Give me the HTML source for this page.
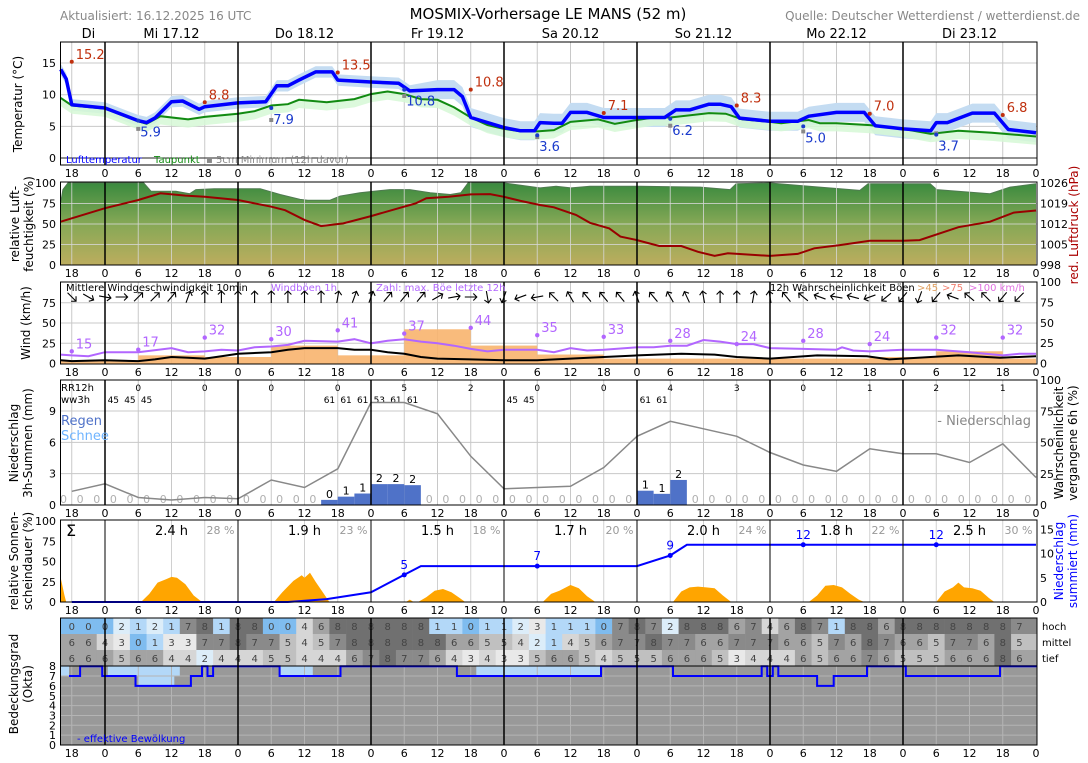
<!DOCTYPE html>
<html><head><meta charset="utf-8"><title>MOSMIX-Vorhersage LE MANS</title>
<style>
body{margin:0;background:#fff;}
svg{display:block;font-family:"DejaVu Sans","Liberation Sans",sans-serif;}
</style></head><body>
<svg id="chart" width="1088" height="763" viewBox="0 0 1088 763" xmlns="http://www.w3.org/2000/svg">
<defs>
<linearGradient id="humGrad" x1="0" y1="0" x2="0" y2="1">
<stop offset="0" stop-color="#3a8a3e"/><stop offset="0.5" stop-color="#86a856"/><stop offset="1" stop-color="#bcad5e"/>
</linearGradient>
</defs>
<rect x="0" y="0" width="1088" height="763" fill="#fff"/>
<text x="60" y="20" font-size="12" fill="#888">Aktualisiert: 16.12.2025 16 UTC</text>
<text x="548" y="19" font-size="15" fill="#000" text-anchor="middle">MOSMIX-Vorhersage LE MANS (52 m)</text>
<text x="1080" y="20" font-size="12" fill="#888" text-anchor="end">Quelle: Deutscher Wetterdienst / wetterdienst.de</text>

<text transform="translate(22,104) rotate(-90)" font-size="12" text-anchor="middle">Temperatur (°C)</text>
<text transform="translate(19,224) rotate(-90)" font-size="12" text-anchor="middle">relative Luft-</text>
<text transform="translate(33,224) rotate(-90)" font-size="12" text-anchor="middle">feuchtigkeit (%)</text>
<text transform="translate(30,323) rotate(-90)" font-size="12" text-anchor="middle">Wind (km/h)</text>
<text transform="translate(18,443) rotate(-90)" font-size="12" text-anchor="middle">Niederschlag</text>
<text transform="translate(32,443) rotate(-90)" font-size="12" text-anchor="middle">3h-Summen (mm)</text>
<text transform="translate(18,561) rotate(-90)" font-size="12" text-anchor="middle">relative Sonnen-</text>
<text transform="translate(32,561) rotate(-90)" font-size="12" text-anchor="middle">scheindauer (%)</text>
<text transform="translate(18,684) rotate(-90)" font-size="12" text-anchor="middle">Bedeckungsgrad</text>
<text transform="translate(32,684) rotate(-90)" font-size="12" text-anchor="middle">(Okta)</text>
<text transform="translate(1078,225) rotate(-90)" font-size="12" fill="#aa0000" text-anchor="middle">red. Luftdruck (hPa)</text>
<text transform="translate(1063,443) rotate(-90)" font-size="12" text-anchor="middle">Wahrscheinlichkeit</text>
<text transform="translate(1077,443) rotate(-90)" font-size="12" text-anchor="middle">vergangene 6h (%)</text>
<text transform="translate(1063,561) rotate(-90)" font-size="12" fill="#0000ff" text-anchor="middle">Niederschlag</text>
<text transform="translate(1077,561) rotate(-90)" font-size="12" fill="#0000ff" text-anchor="middle">summiert (mm)</text>
</svg>
<script>
// ---------- data ----------
const dayLabels = ["Di","Mi 17.12","Do 18.12","Fr 19.12","Sa 20.12","So 21.12","Mo 22.12","Di 23.12"];
const dayLabelH = [-3,12,36,60,84,108,132,156];

const tempT = [-8,-7,-6,0,6,7.5,9,12,14,17,18,24,29,31,33,35,38,41,42,48,53,54,55,60,63,64.5,66,72,75,77.5,78.5,81,82.5,84,87,90,96,101,103,105.5,109,111,113,114.5,120,125,127,132,137,139,144,149,150,152,156.5,160.5,163,168];
const tempV = [14,12.5,8.4,7.9,5.9,5.6,6.3,8.9,9.0,7.7,8.1,8.7,8.9,11.4,11.4,12.3,13.6,13.6,12.3,12.0,11.8,11.2,10.6,10.8,10.8,9.7,6.4,4.8,4.3,4.3,5.6,5.5,5.5,7.2,7.2,6.4,6.4,6.4,7.6,7.6,8.5,8.5,8.1,6.3,5.8,5.8,6.6,7.2,7.2,5.1,4.6,4.3,5.6,5.6,7.1,7.1,4.5,4.0];
const dewT = [-8,-6,0,6,7.5,10,15,18,24,27,30,33,35,40,45,48,51,54,57,60,63,66,69,72,75,78,81,84,89,92,96,99,102,109,112,115,120,122,127,129,132,138,144,149,154,160,168];
const dewV = [9.5,8.3,7.8,5.8,5.4,6.6,6.1,6.5,7.0,7.4,8.3,8.5,9.2,8.8,9.3,10.1,10.5,10.1,9.3,9.2,8.0,6.4,5.2,4.6,4.2,4.2,4.4,5.7,6.1,5.4,6.0,6.4,6.4,7.1,7.0,6.1,5.7,5.5,6.0,5.5,5.5,5.2,4.6,3.8,4.3,4.0,3.4];
const maxH = [-6,18,42,66,90,114,138,162];
const maxV = [15.2,8.8,13.5,10.8,7.1,8.3,7.0,6.8];
const minH = [6,30,54,78,102,126,150];
const minV = [5.9,7.9,10.8,3.6,6.2,5.0,3.7];
const soilMinV = [4.6,6.0,9.8,3.3,5.1,4.2,3.9];

const humT = [-8,-7.6,-6.7,7,8.3,12.8,15.3,16.4,19.7,28,31.6,35.2,36.6,40.6,42.4,46,51.4,55,58.7,62.3,64.2,65.5,72,78.5,81.4,84.1,87.5,96.5,107.4,112.8,113.9,120,125.4,136.2,137.7,148.9,150.1,159.7,163.3,168];
const humV = [76,92,100,100,90,90,87,92,93,93,86,80,79,79,84,88,92,92,88,86,88,100,100,94,96,94,96,96,95,92,99,100,97,91,99,99,92,87,95,99];
const presT = [-8,0,6,10,14.5,18,24,30,32.5,36,39,43,48,53,56,58,62,66,69.5,72,75,78.5,81,85,87.5,91,93,96,100,104,107,110,112.4,120,125,128,132.6,138,144,147,154,159.7,164,168];
const presV = [1012.8,1017.4,1020.2,1022.5,1021.7,1021.3,1020.2,1017.9,1016.7,1013.4,1011.3,1012.2,1014.7,1017.4,1019,1020.8,1021.3,1022.1,1022.2,1021.3,1019.9,1018.5,1017.7,1015.1,1012.4,1010.5,1007.7,1006.5,1004.5,1004.5,1002.5,1001.1,1002,1001.1,1001.8,1003.7,1004.8,1006.3,1006.3,1006.5,1010.9,1012.8,1015.9,1016.6];

const windT = [-8,-6,0,6,9,12,15,18,21,24,30,33,36,42,45,48,51,54,57,60,66,72,78,84,90,96,104,110,114,120,128.5,137.5,141.5,144,154,161.5,168];
const windV = [4,3,4,3,5,8,7,6,9,12,14,17,19,19,17,17,14,12,8,6,5,4,4,6,8,10,12,11,8,6,10,9,5,6,10,7,9];
const gustT = [-8,-6,-3,0,6,12,15,18,21,24,27,30,33,36,42,45,48,51,54,57,60,63,66,69,72,78,81,84,87,90,96,99,102,105,108,111,114,117,120,126,132,133,135,138,144,150,156,162,165,168];
const gustV = [11,10,9,14,14,19,14,15,17,16,20,21,23,28,27,30,25,28,30,27,25,22,18,15,17,17,14,19,16,17,20,20,22,22,29,27,24,24,19,18,17,20,16,15,17,17,14,10,12,12];
const gustMaxH = [-6,6,18,30,42,54,66,78,90,102,114,126,138,150,162];
const gustMaxV = [15,17,32,30,41,37,44,35,33,28,24,28,24,32,32];
const gustProbStart = [-8,6,18,30,42,54,66,78,90,102,114,126,138,150,162];
const gustProbV = [4,10,8,22,10,42,22,11,6,6,6,6,8,15,6];
const windDir = [135,120,100,90,45,45,40,20,0,0,0,0,0,0,0,0,10,20,20,40,40,40,60,80,90,170,200,250,260,315,330,320,320,320,340,320,330,335,350,0,0,10,350,320,310,290,280,285,250,230,220,200,220,290,310,315,220,225];

const precipV = [0,0,0,0,0,0,0,0,0,0,0,0,0,0,0,0,0.49,0.8,1.1,2.0,2.0,1.9,0,0,0,0,0,0,0,0,0,0,0,0,0,1.37,1.07,2.4,0,0,0,0,0,0,0,0,0,0,0,0,0,0,0,0,0,0,0,0,0];
const wwCodes = ["","","","45","45","45","","","","","","","","","","","61","61","61","53","61","61","","","","","","45","45","","","","","","","61","61","","","","","","","","","","","","","","","","","","","","","",""];
const rr12V = [0,0,0,0,5,2,0,0,4,3,0,1,2,1];
const probV = [11,17,6,4,6,5,20,14,29,82,82,73,39,13,14,15,30,55,67,61,55,42,32,27,45,41,41,34,49,22];

const sunT = [-8,-7.3,-7,6.5,8,9.5,11,12,13,14.5,16,17.5,30.5,32,34,35.5,36,37,38,39.5,40.5,54.3,55,55.7,56.5,58,59.5,61,62.5,64,65,79,80.5,82,84,85.5,87,88.5,102.5,104,105.5,107,108.5,110,111.5,113,127,128.5,130,131.5,133,134.5,136,137,150,151.5,153,154,155,156.5,158,159.5,160.5,168];
const sunV = [30,8,0,0,10,24,28,31,30,22,8,0,0,12,26,33,30,36,25,10,0,0,3,0,0,6,14,16,12,5,0,0,10,14,21,17,7,0,0,13,18,19,18,17,8,0,0,8,20,21,18,10,3,0,0,13,18,24,18,17,14,5,0,0];
const sunHours = ["2.4 h","1.9 h","1.5 h","1.7 h","2.0 h","1.8 h","2.5 h"];
const sunPct = ["28 %","23 %","18 %","20 %","24 %","22 %","30 %"];
const cumT = [-6,33,40,48,54,57,96,102,105,168];
const cumV = [0,0,0.6,2.0,5.6,7.4,7.4,9.6,11.8,11.8];
const cumLabelH = [54,78,102,126,150];
const cumLabels = ["5","7","9","12","12"];

const cloudHigh = [0,0,0,2,1,2,1,7,8,1,8,8,0,0,4,6,8,8,8,8,8,8,1,1,0,1,1,2,3,1,1,1,0,7,8,7,2,8,8,8,6,7,4,6,8,7,1,8,8,6,8,8,8,8,8,8,8,7];
const cloudMid = [6,6,4,3,0,1,3,3,7,7,8,7,7,5,4,5,7,8,8,8,8,8,8,6,6,5,5,4,2,1,4,5,6,7,7,8,7,7,6,6,7,7,7,6,6,5,7,6,8,7,6,6,5,7,7,6,8,5];
const cloudLow = [6,6,6,5,6,6,4,4,2,4,4,4,5,5,4,4,4,6,7,8,7,7,6,4,3,4,3,3,5,6,6,5,4,5,5,5,6,6,6,5,3,4,4,4,6,5,6,6,7,6,5,5,5,6,6,6,8,6];
const effT = [-6.5,-4.5,-0.5,5.5,15.5,17.5,18.5,19.5,31.5,42.5,63.5,89.5,102.5,118.5,119.5,120.5,121.5,128.5,131.5,137.5,144.5,161.5];
const effV = [7,8,7,6,7,8,7,8,7,8,7,8,7,8,7,8,7,6,7,8,7,8];
const greyT = [-8,-6.5,0.5,6,12.5,13.5,31.5,37.5,67,89.5];
const greyV = [7,8,7,6,7,8,7,8,7,8];

// ---------- helpers ----------
const svg = document.getElementById('chart');
const NS = 'http://www.w3.org/2000/svg';
const X0 = 60.5, X1 = 1037;
const X = h => 105 + h * 133 / 24;
function mk(tag, attrs, parent) {
  const e = document.createElementNS(NS, tag);
  for (const k in attrs) e.setAttribute(k, attrs[k]);
  (parent || svg).appendChild(e);
  return e;
}
function tx(s, x, y, attrs) {
  const e = mk('text', Object.assign({x: x, y: y}, attrs || {}));
  e.textContent = s;
  return e;
}
function pts(T, V, yf) { return T.map((t, i) => X(t).toFixed(1) + ',' + yf(V[i]).toFixed(1)).join(' '); }
const dayH = [0,24,48,72,96,120,144];

function grid(top, bot, yTicks, yf, name, color) {
  const g = mk('g', {stroke: color || '#c8c8c8', 'stroke-width': 1});
  
  
  for (let h = -6; h <= 162; h += 6) {
    if (h % 24 === 0) continue;
    mk('line', {x1: X(h), x2: X(h), y1: top, y2: bot}, g);
  }
  yTicks.forEach(v => mk('line', {x1: X0, x2: X1, y1: yf(v), y2: yf(v)}, g));
}
function frame(top, bot, name, daylw) {
  const g = mk('g', {stroke: '#000', 'stroke-width': daylw || 1.5});
  
  
  dayH.forEach(h => mk('line', {x1: X(h), x2: X(h), y1: top, y2: bot}, g));
  const r = mk('rect', {x: X0, y: top, width: X1 - X0, height: bot - top, fill: 'none', stroke: '#000', 'stroke-width': 1});
  
  
}
function hourLabels(bot, name) {
  const g = mk('g', {'font-size': 11, 'text-anchor': 'middle', fill: '#000'});
  
  
  for (let h = -6; h <= 168; h += 6) {
    const t = mk('text', {x: X(h), y: bot + 12}, g);
    t.textContent = String(((h % 24) + 24) % 24);
  }
}
function yLabels(ticks, yf, side, name, color, labels) {
  const g = mk('g', {'font-size': 11, 'text-anchor': side === 'left' ? 'end' : 'start', fill: color || '#000'});
  
  
  ticks.forEach((v, i) => {
    const t = mk('text', {x: side === 'left' ? 56 : 1040, y: yf(v) + 4}, g);
    t.textContent = labels ? labels[i] : String(v);
  });
}

// day labels
dayLabels.forEach((s, i) => {
  const t = tx(s, X(dayLabelH[i]), 38, {'font-size': 13, 'text-anchor': 'middle'});
  
  
});

// ---------- panel 1: temperature ----------
const yT = v => 158 - 6.33 * v;
grid(42, 165, [5, 10, 15], yT, 'temperature');
{
  const lo = tempV.map((v, i) => v - (tempT[i] < 60 ? 0.9 : 1.5));
  const hi = tempV.map((v, i) => v + (tempT[i] < 60 ? 0.9 : 1.5));
  const band = mk('polygon', {points: pts(tempT, hi, yT) + ' ' + pts(tempT.slice().reverse(), lo.slice().reverse(), yT), fill: '#c4dcf2'});
  
  
  const dlo = dewV.map(v => v - 1.3), dhi = dewV.map(v => v + 0.2);
  const dband = mk('polygon', {points: pts(dewT, dhi, yT) + ' ' + pts(dewT.slice().reverse(), dlo.slice().reverse(), yT), fill: '#d6f8d6', opacity: 0.85});
  
  
}
const zl = mk('line', {x1: X0, x2: X1, y1: yT(0), y2: yT(0), stroke: '#222', 'stroke-width': 1});


const dewLine = mk('polyline', {points: pts(dewT, dewV, yT), fill: 'none', stroke: '#128a12', 'stroke-width': 2});


const tLine = mk('polyline', {points: pts(tempT, tempV, yT), fill: 'none', stroke: '#0000ff', 'stroke-width': 3.5, 'stroke-linejoin': 'round'});


maxH.forEach((h, i) => {
  const c = mk('circle', {cx: X(h), cy: yT(maxV[i]), r: 2, fill: '#c0300e'});
  
  
  const t = tx(maxV[i].toFixed(1), X(h) + 4, yT(maxV[i]) - 3, {'font-size': 13, fill: '#c0300e'});
  
  
});
minH.forEach((h, i) => {
  const s = mk('rect', {x: X(h) - 2, y: yT(soilMinV[i]) - 2, width: 4, height: 4, fill: '#888'});
  
  
  const c = mk('circle', {cx: X(h), cy: yT(minV[i]), r: 2, fill: '#1a3acc'});
  
  
  const t = tx(minV[i].toFixed(1), X(h) + 2, yT(minV[i]) + 16, {'font-size': 13, fill: '#1a3acc'});
  
  
});
frame(42, 165, 'temperature');
yLabels([0, 5, 10, 15], yT, 'left', 'temperature-y-ticks');
hourLabels(165, 'temperature');
{
  const a = tx('Lufttemperatur', 66, 163, {'font-size': 10, fill: '#0000ff'});
  
  
  const b = tx('Taupunkt', 154, 163, {'font-size': 10, fill: '#128a12'});
  
  
  const c = tx('▪ 5cm Minimum (12h davor)', 206, 163, {'font-size': 10, fill: '#888'});
  
  
}

// ---------- panel 2: humidity + pressure ----------
const yH = v => 265 - 0.82 * v;
const yP = p => 265 - (p - 998) * 82 / 28;
{
  const area = mk('polygon', {points: X(humT[0]) + ',265 ' + pts(humT, humV, yH) + ' ' + X(humT[humT.length - 1]) + ',265', fill: 'url(#humGrad)'});
  
  
  const edge = mk('polyline', {points: pts(humT, humV, yH), fill: 'none', stroke: '#4f7a50', 'stroke-width': 1});
  
  
}
grid(182, 265, [25, 50, 75], yH, 'humidity', 'rgba(215,215,215,0.8)');
const pLine = mk('polyline', {points: pts(presT, presV, yP), fill: 'none', stroke: '#990000', 'stroke-width': 2});


frame(182, 265, 'humidity');
yLabels([0, 25, 50, 75, 100], yH, 'left', 'humidity-y-ticks');
yLabels([998, 1005, 1012, 1019, 1026], yP, 'right', 'pressure-y-ticks');
hourLabels(265, 'humidity');

// ---------- panel 3: wind ----------
const yW = v => 363.5 - 0.81 * v;
const yWp = p => 363.5 - 0.815 * p;
grid(282, 364, [25, 50, 75], yW, 'wind');
gustProbStart.forEach((h, i) => {
  const h2 = i + 1 < gustProbStart.length ? gustProbStart[i + 1] : 168;
  const r = mk('rect', {x: X(h), y: yWp(gustProbV[i]), width: X(h2) - X(h), height: 363.5 - yWp(gustProbV[i]), fill: '#f8b46e', opacity: 0.9});
  
  
});
const gLine = mk('polyline', {points: pts(gustT, gustV, yW), fill: 'none', stroke: '#b266ff', 'stroke-width': 2});


const wLine = mk('polyline', {points: pts(windT, windV, yW), fill: 'none', stroke: '#000', 'stroke-width': 2});


gustMaxH.forEach((h, i) => {
  const c = mk('circle', {cx: X(h), cy: yW(gustMaxV[i]), r: 2.2, fill: '#b266ff'});
  
  
  const t = tx(String(gustMaxV[i]), X(h) + 4, yW(gustMaxV[i]) - 3, {'font-size': 13, fill: '#b266ff'});
  
  
});
windDir.forEach((a, i) => {
  const ar = mk('path', {d: 'M0,6 L0,-6 M-3.5,-2.5 L0,-6 L3.5,-2.5', transform: 'translate(' + X(-6 + 3 * i).toFixed(1) + ',297) rotate(' + a + ')', stroke: '#000', 'stroke-width': 1.1, fill: 'none'});
  
  
});
frame(282, 364, 'wind');
yLabels([0, 25, 50, 75], yW, 'left', 'wind-y-ticks');
yLabels([0, 25, 50, 75, 100], yWp, 'right', 'gust-probability-y-ticks');
hourLabels(364, 'wind');
{
  const specs = [['Mittlere Windgeschwindigkeit 10min', 66, '#000', 'wind-mean-legend'], ['Windböen 1h', 271, '#b266ff', 'wind-gust-legend'], ['Zahl: max. Böe letzte 12h', 376, '#b266ff', 'wind-max-legend'], ['12h Wahrscheinlichkeit Böen', 770, '#000', 'gust-probability-legend'], ['>45', 917, '#e0a060', 'gust-legend-45'], ['>75', 942, '#f08070', 'gust-legend-75'], ['>100 km/h', 969, '#e070e0', 'gust-legend-100']];
  specs.forEach(s => {
    const t = tx(s[0], s[1], 291, {'font-size': 10, fill: s[2]});
    
    
  });
}

// ---------- panel 4: precipitation ----------
const yR = v => 505 - 10.44 * v;
const yRp = p => 505 - 1.25 * p;
grid(380, 505, [3, 6, 9], yR, 'precipitation');
precipV.forEach((v, i) => {
  const c = X(-7.5 + 3 * i);
  if (v > 0) {
    const r = mk('rect', {x: c - 8.3, y: yR(v), width: 16.6, height: 505 - yR(v), fill: '#4f72c8'});
    
    
    const t = tx(String(Math.round(v)), c, yR(v) - 2, {'font-size': 11, 'text-anchor': 'middle', fill: '#000'});
    
    
  } else if (c > X0) {
    const t = tx('0', c, 503, {'font-size': 11, 'text-anchor': 'middle', fill: '#b0b0b0'});
    
    
  }
  if (wwCodes[i]) {
    const w = tx(wwCodes[i], c, 403, {'font-size': 9, 'text-anchor': 'middle', fill: '#000'});
    
    
  }
});
rr12V.forEach((v, i) => {
  const t = tx(String(v), X(6 + 12 * i), 391, {'font-size': 9, 'text-anchor': 'middle', fill: '#000'});
  
  
});
const probLine = mk('polyline', {points: probV.map((v, i) => X(-6 + 6 * i).toFixed(1) + ',' + yRp(v).toFixed(1)).join(' '), fill: 'none', stroke: '#888', 'stroke-width': 1.5});


frame(380, 505, 'precipitation');
yLabels([0, 3, 6, 9], yR, 'left', 'precip-y-ticks');
yLabels([0, 25, 50, 75, 100], yRp, 'right', 'probability-y-ticks');
hourLabels(505, 'precipitation');
{
  const specs = [['RR12h', 61, 391, 10, '#000', 'rr12h-title'], ['ww3h', 61, 403, 10, '#000', 'ww3h-title'], ['Regen', 61, 425, 13, '#4f72c8', 'rain-legend'], ['Schnee', 61, 440, 13, '#6fb4ff', 'snow-legend']];
  specs.forEach(s => {
    const t = tx(s[0], s[1], s[2], {'font-size': s[3], fill: s[4]});
    
    
  });
  const n = tx('- Niederschlag', 1031, 425, {'font-size': 13, fill: '#888', 'text-anchor': 'end'});
  
  
}

// ---------- panel 5: sunshine + cumulative precipitation ----------
const yS = v => 602 - 0.81 * v;
const yC = v => 602 - 4.85 * v;
grid(520, 602, [], yS, 'sunshine', '#d0d0d0');
const sunArea = mk('polygon', {points: X(sunT[0]) + ',602 ' + pts(sunT, sunV, yS) + ' ' + X(sunT[sunT.length - 1]) + ',602', fill: '#ffa500'});


const cumLine = mk('polyline', {points: pts(cumT, cumV, yC), fill: 'none', stroke: '#0000ff', 'stroke-width': 2});


function interp(T, V, h) {
  for (let i = 0; i < T.length - 1; i++) if (h >= T[i] && h <= T[i + 1]) return V[i] + (V[i + 1] - V[i]) * (h - T[i]) / (T[i + 1] - T[i]);
  return V[V.length - 1];
}
cumLabelH.forEach((h, i) => {
  const v = interp(cumT, cumV, h);
  const c = mk('circle', {cx: X(h), cy: yC(v), r: 2.5, fill: '#0000ff'});
  
  
  const t = tx(cumLabels[i], X(h), yC(v) - 6, {'font-size': 12, fill: '#0000ff', 'text-anchor': 'middle'});
  
  
});
sunHours.forEach((s, i) => {
  const t = tx(s, X(12 + 24 * i), 535, {'font-size': 13, 'text-anchor': 'middle', fill: '#000'});
  
  
  const p = tx(sunPct[i], X(12 + 24 * i) + 49, 534, {'font-size': 11, 'text-anchor': 'middle', fill: '#999'});
  
  
});
{
  const s = tx('Σ', 66, 536, {'font-size': 16, fill: '#000'});
  
  
}
frame(520, 602, 'sunshine', 1);
yLabels([0, 25, 50, 75, 100], yS, 'left', 'sunshine-y-ticks');
yLabels([0, 5, 10, 15], yC, 'right', 'cumulative-y-ticks');
hourLabels(602, 'sunshine');

// ---------- panel 6: cloud layers ----------
const cloudColors = ['#7fbcef', '#b3d8f8', '#dcedf9', '#e9e9e9', '#d6d6d6', '#c0c0c0', '#a3a3a3', '#8a8a8a', '#707070'];
const rows = [[cloudHigh, 618, 'hoch'], [cloudMid, 634, 'mittel'], [cloudLow, 650, 'tief']];
rows.forEach(r => {
  const arr = r[0], top = r[1];
  arr.forEach((v, i) => {
    const c = X(-6 + 3 * i);
    let x1 = c - 8.31, x2 = c + 8.31;
    if (i === 0) x1 = X0;
    if (i === arr.length - 1) x2 = X1;
    const cell = mk('rect', {x: x1.toFixed(1), y: top, width: (x2 - x1 + 0.4).toFixed(1), height: 16, fill: cloudColors[v]});
    
    
    const t = tx(String(v), c, top + 12, {'font-size': 10, 'text-anchor': 'middle', fill: '#444'});
    
    
  });
  const lab = tx(r[2], 1042, top + 12, {'font-size': 10, fill: '#000'});
  
  
});

// ---------- panel 7: effective cloud cover ----------
const yO = v => 745 - 9.85 * v;
{
  const bg = mk('rect', {x: X0, y: yO(8), width: X1 - X0, height: 745 - yO(8), fill: '#b3d8f8'});
  
  
  let d = 'M' + X0 + ',745';
  greyT.forEach((t, i) => {
    const xs = Math.max(X(t), X0);
    d += ' L' + xs.toFixed(1) + ',' + yO(greyV[i]).toFixed(1);
    const xe = i + 1 < greyT.length ? X(greyT[i + 1]) : X1;
    d += ' L' + xe.toFixed(1) + ',' + yO(greyV[i]).toFixed(1);
  });
  d += ' L' + X1 + ',745 Z';
  const g = mk('path', {d: d, fill: '#999'});
  
  
}
grid(666, 745, [1, 2, 3, 4, 5, 6, 7], yO, 'cloud-cover', '#b4b4b4');
{
  let d = '';
  effT.forEach((t, i) => {
    const xe = i + 1 < effT.length ? X(effT[i + 1]) : X1;
    d += (i === 0 ? 'M' : ' L') + X(t).toFixed(1) + ',' + yO(effV[i]).toFixed(1) + ' L' + xe.toFixed(1) + ',' + yO(effV[i]).toFixed(1);
  });
  const ef = mk('path', {d: d, fill: 'none', stroke: '#0000ff', 'stroke-width': 2});
  
  
}
frame(618, 745, 'cloud', 1.5);
{
  const sep = mk('line', {x1: X0, x2: X1, y1: 666, y2: 666, stroke: '#000', 'stroke-width': 1});
  
  
  const t = tx('- effektive Bewölkung', 77, 742, {'font-size': 10, fill: '#0000ff'});
  
  
}
yLabels([0, 1, 2, 3, 4, 5, 6, 7, 8], yO, 'left', 'cloud-y-ticks');
hourLabels(745, 'cloud');
</script>
</body></html>
